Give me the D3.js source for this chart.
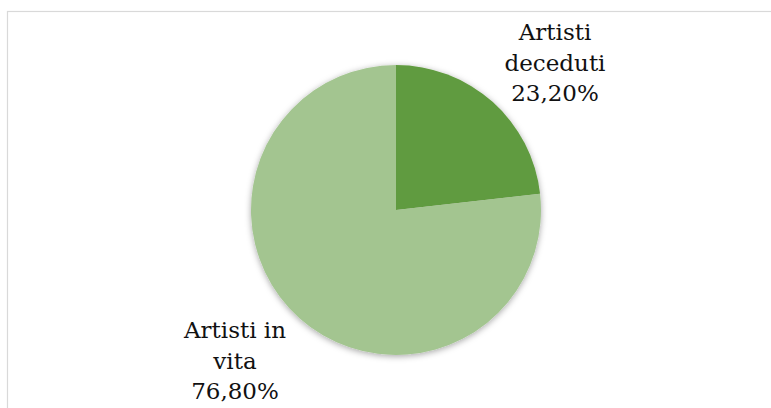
<!DOCTYPE html>
<html>
<head>
<meta charset="utf-8">
<script src="https://cdn.jsdelivr.net/npm/d3@7"></script>
<style>
  html, body { margin: 0; padding: 0; background: #fff; }
  svg { display: block; }
  text { font-family: "DejaVu Serif", "Liberation Serif", serif; fill: #111; }
</style>
</head>
<body>
<svg id="chart" width="771" height="408"></svg>
<script>
// Share of artists: deceased vs living
const categories = ["Artisti deceduti", "Artisti in vita"];
const values = [23.2, 76.8];
const labelLines = [
  ["Artisti", "deceduti", "23,20%"],
  ["Artisti in", "vita", "76,80%"]
];
const colors = ["#619b3f", "#a3c590"];

const svg = d3.select("#chart");
const W = 771, H = 408;

// chart frame
svg.append("rect")
  .attr("x", 7.5).attr("y", 11.5)
  .attr("width", W).attr("height", H)
  .attr("fill", "#fff")
  .attr("stroke", "#d9d9d9")
  .attr("stroke-width", 1.2);

const defs = svg.append("defs");
const shadow = defs.append("filter").attr("id", "pieShadow")
  .attr("x", "-10%").attr("y", "-10%").attr("width", "120%").attr("height", "120%");
shadow.append("feDropShadow")
  .attr("dx", 0).attr("dy", 1.5)
  .attr("stdDeviation", 3)
  .attr("flood-color", "#000")
  .attr("flood-opacity", 0.35);

const cx = 396, cy = 210, r = 145;

const pie = d3.pie().sort(null).value(d => d)(values);
const arc = d3.arc().innerRadius(0).outerRadius(r);

const g = svg.append("g")
  .attr("transform", `translate(${cx},${cy})`)
  .attr("filter", "url(#pieShadow)");

g.selectAll("path")
  .data(pie)
  .join("path")
  .attr("d", arc)
  .attr("fill", (d, i) => colors[i]);

// data labels
const labelPos = [
  { x: 555, y: 40 },
  { x: 235, y: 338 }
];
const lineGap = 30.5;

labelLines.forEach((lines, i) => {
  const t = svg.append("text")
    .attr("text-anchor", "middle")
    .attr("font-size", 23);
  lines.forEach((s, j) => {
    t.append("tspan")
      .attr("x", labelPos[i].x)
      .attr("y", labelPos[i].y + j * lineGap)
      .text(s);
  });
});
</script>
</body>
</html>
